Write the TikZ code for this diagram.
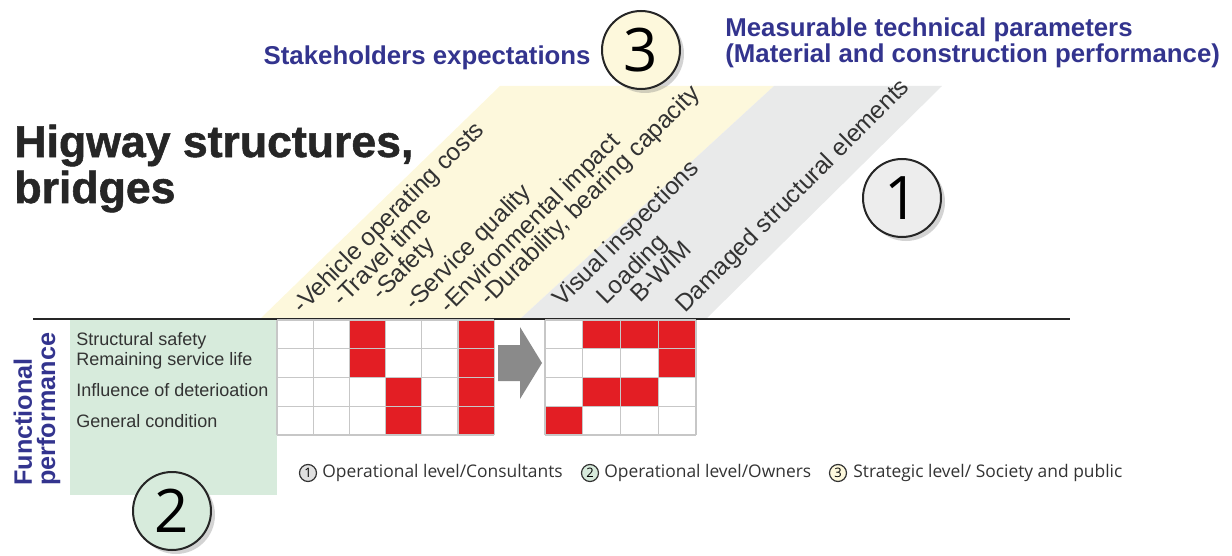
\documentclass[tikz,border=0pt]{standalone}
\usepackage{fontspec}
\setmainfont{Liberation Sans}
\newfontfamily\numfont{Open Sans}
\newfontfamily\heavyfont{Liberation Sans Bold}[FakeBold=1.2]
\usepackage{xcolor}
\usepackage{tikz}
\usetikzlibrary{shadows}
\definecolor{cellred}{HTML}{E31E24}
\definecolor{titleblue}{HTML}{33348E}
\definecolor{paleyellow}{HTML}{FDF8DC}
\definecolor{palegray}{HTML}{E9EAEA}
\definecolor{palegreen}{HTML}{D7EBDC}
\definecolor{textgray}{HTML}{333333}
\definecolor{arrowgray}{HTML}{8A8A8A}

\begin{document}
\begin{tikzpicture}[x=0.5pt,y=-0.5pt,
  lbl/.style={rotate=45,anchor=base west,inner sep=0pt,text=textgray,font=\fontsize{12.2}{12.2}\selectfont},
  rowlbl/.style={anchor=base west,inner sep=0pt,text=textgray,font=\fontsize{9}{9}\selectfont},
  bluetxt/.style={inner sep=0pt,text=titleblue,font=\bfseries\fontsize{12.9}{12.9}\selectfont},
  titletxt/.style={anchor=base west,inner sep=0pt,text=black!85,font=\heavyfont\fontsize{22.3}{22.3}\selectfont},
  bignum/.style={circle,draw=black!85,line width=1pt,minimum size=39pt,inner sep=0pt,
    font=\numfont\fontsize{30}{30}\selectfont,
    drop shadow={shadow xshift=2pt,shadow yshift=-2pt,opacity=0.35}},
  smallnum/.style={circle,draw=black!80,line width=0.6pt,minimum size=8.5pt,inner sep=0pt,
    font=\numfont\fontsize{6.5}{6.5}\selectfont},
  legend/.style={anchor=west,inner sep=0pt,text=textgray,font=\numfont\fontsize{8.7}{8.7}\selectfont},
  gridline/.style={draw=black!22,line width=0.6pt}]
\useasboundingbox (0,0) rectangle (1232,556);
\fill[paleyellow] (260,319) -- (500,86) -- (774,86) -- (520,319) -- cycle;
\fill[palegray] (520,319) -- (774,86) -- (942,86) -- (706,319) -- cycle;
\fill[palegreen] (70,320) rectangle (277,495);
\draw[line width=1pt,black!85] (33,319) -- (1070,319);

\node[titletxt] (title) at (14,157) {Higway structures,};
\node[titletxt] (title2) at (14,203) {bridges};
\node[bluetxt,anchor=base east] (stake) at (591,65) {Stakeholders expectations};
\node[bluetxt,anchor=base west] (meas) at (725,37) {Measurable technical parameters};
\node[bluetxt,anchor=base west] (meas2) at (725,63) {(Material and construction performance)};

\node[lbl] (vehicle) at (302,315) {-Vehicle operating costs};
\node[lbl] (travel) at (342,308) {-Travel time};
\node[lbl] (safety) at (381,302) {-Safety};
\node[lbl] (service) at (414,312) {-Service quality};
\node[lbl] (environ) at (449,315) {-Environmental impact};
\node[lbl] (durab) at (489,307) {-Durability, bearing capacity};
\node[lbl] (visual) at (562,308) {Visual inspections};
\node[lbl] (loading) at (606,306) {Loading};
\node[lbl] (bwim) at (640,304) {B-WIM};
\node[lbl] (damaged) at (685,314) {Damaged structural elements};

\node[rotate=90,anchor=base west,inner sep=0pt,text=titleblue,font=\bfseries\fontsize{12.6}{12.6}\selectfont] (func) at (32,486) {Functional};
\node[rotate=90,anchor=base west,inner sep=0pt,text=titleblue,font=\bfseries\fontsize{12.6}{12.6}\selectfont] (perf) at (55,486) {performance};
\node[rowlbl] (rsafe) at (76,345) {Structural safety};
\node[rowlbl] (rlife) at (76,365) {Remaining service life};
\node[rowlbl] (rdet) at (76,396) {Influence of deterioation};
\node[rowlbl] (rcond) at (76,427) {General condition};

\foreach \c/\r in {2/0,5/0,2/1,5/1,3/2,5/2,3/3,5/3}
  \fill[cellred] (277+\c*36.2,320+\r*28.75) rectangle ++(36.2,28.75);
\foreach \c/\r in {1/0,2/0,3/0,3/1,1/2,2/2,0/3}
  \fill[cellred] (545+\c*37.75,320+\r*28.75) rectangle ++(37.75,28.75);
\foreach \c in {0,...,6}
  \draw[gridline] (277+\c*36.2,320) -- ++(0,115);
\foreach \r in {0,...,4}
  \draw[gridline] (277,320+\r*28.75) -- ++(217.2,0);
\foreach \c in {0,...,4}
  \draw[gridline] (545+\c*37.75,320) -- ++(0,115);
\foreach \r in {0,...,4}
  \draw[gridline] (545,320+\r*28.75) -- ++(151,0);

\fill[arrowgray] (498,345) -- (520,345) -- (520,327) -- (542,363) -- (520,399) -- (520,381) -- (498,381) -- cycle;

\node[bignum,fill=paleyellow] (three) at (641,50) {3};
\node[bignum,fill=black!7] (one) at (902,198) {1};
\node[bignum,fill=palegreen] (two) at (172,511) {2};

\node[smallnum,fill=black!12] (l1) at (308,473) {1};
\node[legend] (t1) at (322,473) {Operational level/Consultants};
\node[smallnum,fill=palegreen] (l2) at (590,473) {2};
\node[legend] (t2) at (604,473) {Operational level/Owners};
\node[smallnum,fill=paleyellow] (l3) at (838,473) {3};
\node[legend] (t3) at (853,473) {Strategic level/ Society and public};
\end{tikzpicture}
\end{document}
